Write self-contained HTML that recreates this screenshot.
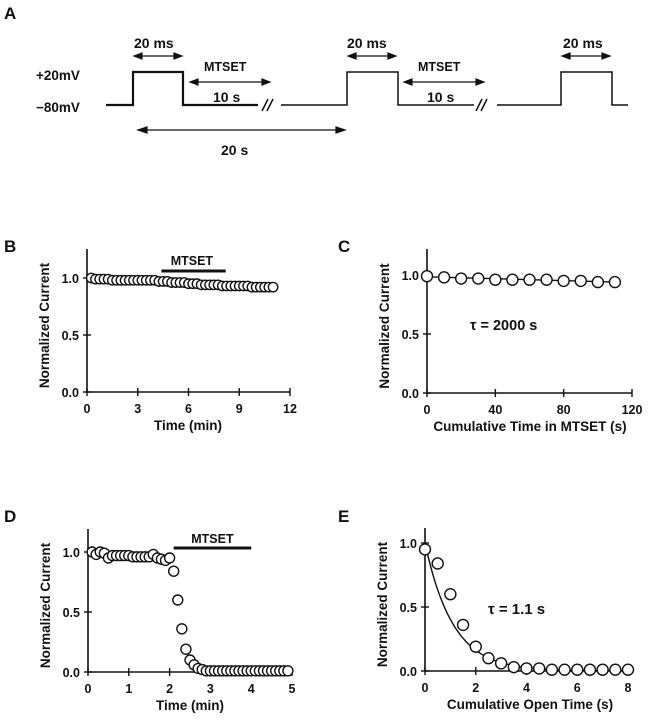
<!DOCTYPE html>
<html><head><meta charset="utf-8"><style>
body{margin:0;background:#fff;}
svg text{font-family:"Liberation Sans",Arial,sans-serif;font-weight:bold;fill:#111;}
</style></head><body>
<svg id="fig" width="652" height="720" viewBox="0 0 652 720" xmlns="http://www.w3.org/2000/svg">
<g stroke="#111" fill="none">
  <text x="4" y="19" font-size="17" stroke="none">A</text>
  <text x="36" y="80" font-size="13.5" stroke="none">+20mV</text>
  <text x="36" y="112" font-size="13.5" stroke="none">−80mV</text>
  <polyline stroke-width="2.2" points="106,105 133,105 133,72 183,72 183,105 258,105"/>
  <polyline stroke-width="1.5" points="281,105 347,105 347,72 398,72 398,105 474,105"/>
  <polyline stroke-width="1.5" points="497,105 561,105 561,72 612,72 612,105 628,105"/>
  <path stroke-width="1.5" d="M262,111 L268,99 M267,111 L273,99"/>
  <path stroke-width="1.5" d="M476,111 L482,99 M481,111 L487,99"/>
  <g stroke-width="1.2">
    <path d="M134,56 H182 M134,56 l8,-3 v6 z M182,56 l-8,-3 v6 z" fill="#111"/>
    <path d="M348,56 H396 M348,56 l8,-3 v6 z M396,56 l-8,-3 v6 z" fill="#111"/>
    <path d="M562,56 H610 M562,56 l8,-3 v6 z M610,56 l-8,-3 v6 z" fill="#111"/>
    <path d="M190,82 H270 M190,82 l8,-3 v6 z M270,82 l-8,-3 v6 z" fill="#111"/>
    <path d="M404,82 H484 M404,82 l8,-3 v6 z M484,82 l-8,-3 v6 z" fill="#111"/>
    <path d="M138,130 H345 M138,130 l9,-3 v6 z M345,130 l-9,-3 v6 z" fill="#111"/>
  </g>
  <g stroke="none" font-size="14">
    <text x="134" y="48">20 ms</text>
    <text x="347" y="48">20 ms</text>
    <text x="563" y="48">20 ms</text>
    <text x="204" y="71" font-size="12.5">MTSET</text>
    <text x="418" y="71" font-size="12.5">MTSET</text>
    <text x="213" y="102">10 s</text>
    <text x="427" y="102">10 s</text>
    <text x="221" y="155">20 s</text>
  </g>
</g>
<g id="charts"></g>
</svg>
<script>
// Panel B
const bTimes=[0.25,0.5,0.75,1,1.25,1.5,1.75,2,2.25,2.5,2.75,3,3.25,3.5,3.75,4,4.25,4.5,4.75,5,5.25,5.5,5.75,6,6.25,6.5,6.75,7,7.25,7.5,7.75,8,8.25,8.5,8.75,9,9.25,9.5,9.75,10,10.25,10.5,10.75,11];
const bValues=[1.0,0.99,0.99,0.99,0.99,0.98,0.98,0.98,0.98,0.98,0.98,0.98,0.98,0.98,0.98,0.98,0.97,0.97,0.97,0.96,0.96,0.96,0.96,0.95,0.95,0.95,0.94,0.94,0.94,0.94,0.94,0.93,0.93,0.93,0.93,0.93,0.93,0.93,0.92,0.92,0.92,0.92,0.92,0.92];
const bXTicks=[0,3,6,9,12];
// Panel C
const cTimes=[0,10,20,30,40,50,60,70,80,90,100,110];
const cValues=[0.99,0.98,0.97,0.97,0.96,0.96,0.96,0.96,0.95,0.95,0.94,0.94];
const cFit=[0.985,0.94];
const cXTicks=[0,40,80,120];
// Panel D
const dTimes=[0.1,0.2,0.3,0.4,0.5,0.6,0.7,0.8,0.9,1.0,1.1,1.2,1.3,1.4,1.5,1.6,1.7,1.8,1.9,2.0,2.1,2.2,2.3,2.4,2.5,2.6,2.7,2.8,2.9,3.0,3.1,3.2,3.3,3.4,3.5,3.6,3.7,3.8,3.9,4.0,4.1,4.2,4.3,4.4,4.5,4.6,4.7,4.8,4.9];
const dValues=[1.0,0.98,1.0,0.99,0.95,0.97,0.97,0.97,0.97,0.97,0.96,0.96,0.96,0.96,0.96,0.98,0.95,0.94,0.93,0.95,0.84,0.60,0.36,0.19,0.10,0.06,0.03,0.02,0.01,0.01,0.01,0.01,0.01,0.01,0.01,0.01,0.01,0.01,0.01,0.01,0.01,0.01,0.01,0.01,0.01,0.01,0.01,0.01,0.01];
const dXTicks=[0,1,2,3,4,5];
// Panel E
const eTimes=[0,0.5,1,1.5,2,2.5,3,3.5,4,4.5,5,5.5,6,6.5,7,7.5,8];
const eValues=[0.95,0.84,0.60,0.36,0.19,0.10,0.06,0.03,0.02,0.02,0.01,0.01,0.01,0.01,0.01,0.01,0.01];
const eTau=1.1;
const eXTicks=[0,2,4,6,8];
const yTicks=[0,0.5,1];
const yTickLabels=["0.0","0.5","1.0"];

const NS="http://www.w3.org/2000/svg";
const root=document.getElementById('charts');
function mk(tag,attrs,parent){const e=document.createElementNS(NS,tag);for(const k in attrs)e.setAttribute(k,attrs[k]);(parent||root).appendChild(e);return e;}

function panel(cfg){
  const g=mk('g',{});
  
  
  const sx=v=>cfg.x0+(v-cfg.xmin)/(cfg.xmax-cfg.xmin)*(cfg.x1-cfg.x0);
  const sy=v=>cfg.y0-v*(cfg.y0-cfg.y1);
  const pl=mk('text',{x:cfg.lx,y:cfg.ly,'font-size':17},g);pl.textContent=cfg.letter;
  
  
  const ax=mk('path',{d:`M${cfg.x0},${cfg.ytop} V${cfg.y0} H${cfg.x1}`,stroke:'#111','stroke-width':1.6,fill:'none'},g);
  
  
  cfg.xticks.forEach(t=>{
    const x=sx(t);
    mk('line',{x1:x,x2:x,y1:cfg.y0-4,y2:cfg.y0+4,stroke:'#111','stroke-width':1.4},g);
    const tl=mk('text',{x:x,y:cfg.y0+21,'font-size':12.5,'text-anchor':'middle'},g);tl.textContent=t;
    
    
  });
  yTicks.forEach((t,i)=>{
    const y=sy(t);
    mk('line',{x1:cfg.x0-4,x2:cfg.x0+4,y1:y,y2:y,stroke:'#111','stroke-width':1.4},g);
    const tl=mk('text',{x:cfg.x0-8,y:y+5,'font-size':12.5,'text-anchor':'end'},g);tl.textContent=yTickLabels[i];
    
    
  });
  const yt=mk('text',{transform:`translate(${cfg.x0-38},${(cfg.y0+cfg.ytop)/2+5}) rotate(-90)`,'font-size':13.5,'text-anchor':'middle'},g);
  yt.textContent='Normalized Current';
  
  
  const xt=mk('text',{x:cfg.xtx,y:cfg.y0+38,'font-size':13.5,'text-anchor':'middle'},g);
  xt.textContent=cfg.xtitle;
  
  
  if(cfg.fit){
    const fl=mk('path',{d:cfg.fit(sx,sy),stroke:'#111','stroke-width':1.4,fill:'none'},g);
    
    
  }
  cfg.xs.forEach((v,i)=>{
    const c=mk('circle',{cx:sx(v),cy:sy(cfg.ys[i]),r:cfg.r,fill:'#fff',stroke:'#111','stroke-width':1.4},g);
    
    
  });
  return {g,sx,sy};
}

const B=panel({name:'panel-b',letter:'B',lx:4,ly:252,x0:87,x1:290,xmin:0,xmax:12,y0:392,y1:278,ytop:249,xticks:bXTicks,xs:bTimes,ys:bValues,r:4.7,xtitle:'Time (min)',xtx:188});
const mb=mk('line',{x1:B.sx(4.4),x2:B.sx(8.2),y1:271,y2:271,stroke:'#111','stroke-width':3},B.g);


let t=mk('text',{x:B.sx(6.2),y:265,'font-size':12.5,'text-anchor':'middle'},B.g);t.textContent='MTSET';



const C=panel({name:'panel-c',letter:'C',lx:338,ly:252,x0:427,x1:632,xmin:0,xmax:120,y0:393,y1:275,ytop:249,xticks:cXTicks,xs:cTimes,ys:cValues,r:5.5,xtitle:'Cumulative Time in MTSET (s)',xtx:530,
  fit:(sx,sy)=>`M${sx(0)},${sy(cFit[0])} L${sx(110)},${sy(cFit[1])}`});
t=mk('text',{x:470,y:330,'font-size':14.5},C.g);t.textContent='τ = 2000 s';



const D=panel({name:'panel-d',letter:'D',lx:4,ly:522,x0:88,x1:292,xmin:0,xmax:5,y0:672,y1:552,ytop:529,xticks:dXTicks,xs:dTimes,ys:dValues,r:5,xtitle:'Time (min)',xtx:190});
const md=mk('line',{x1:D.sx(2.1),x2:D.sx(4.0),y1:548,y2:548,stroke:'#111','stroke-width':3},D.g);


t=mk('text',{x:D.sx(3.05),y:543,'font-size':12.5,'text-anchor':'middle'},D.g);t.textContent='MTSET';



const E=panel({name:'panel-e',letter:'E',lx:338,ly:522,x0:425,x1:628,xmin:0,xmax:8,y0:671,y1:543,ytop:528,xticks:eXTicks,xs:eTimes,ys:eValues,r:5.5,xtitle:'Cumulative Open Time (s)',xtx:530,
  fit:(sx,sy)=>{let d='';for(let i=0;i<=80;i++){const x=i*0.1;d+=(i?'L':'M')+sx(x).toFixed(1)+','+sy(Math.exp(-x/eTau)).toFixed(1);}return d;}});
t=mk('text',{x:488,y:614,'font-size':15},E.g);t.textContent='τ = 1.1  s';


</script>
</body></html>
